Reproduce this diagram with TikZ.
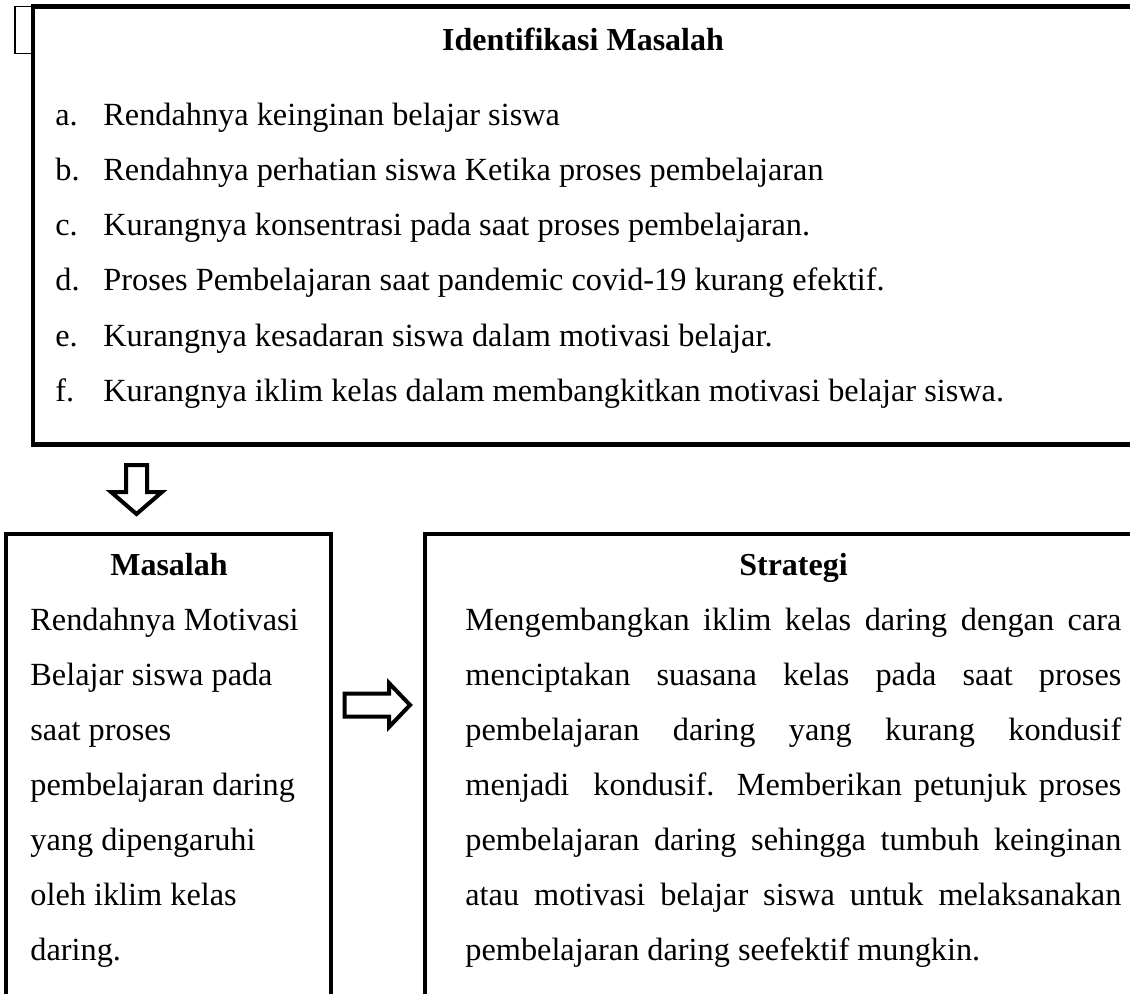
\documentclass[tikz,border=0pt]{standalone}
\usepackage{fontspec}
\setmainfont{Liberation Serif}
\begin{document}
\begin{tikzpicture}[x=0.5pt,y=-0.5pt,
  txt/.style={inner sep=0pt, anchor=base west, font=\fontsize{16.15pt}{19pt}\selectfont},
  ttl/.style={inner sep=0pt, anchor=base, font=\fontsize{16pt}{19pt}\selectfont\bfseries},
  frame/.style={draw, line width=2.2pt, line join=miter},
  thinframe/.style={draw, line width=0.75pt},
  blockarrow/.style={draw, line width=2pt, line join=miter, fill=white}]
\useasboundingbox (0,0) rectangle (1130,993);
\clip (0,0) rectangle (1130,993);
% frames
\draw[thinframe] (15,6.5) rectangle (33,53.5);
\draw[frame] (33,6.5) rectangle (1150,444.5);
\draw[frame] (6,534) rectangle (331,1010);
\draw[frame] (425,534) rectangle (1150,1010);
% block arrows
\draw[blockarrow] (126,465) -- (147,465) -- (147,492) -- (162,492) -- (136.5,514) -- (111,492) -- (126,492) -- cycle;
\draw[blockarrow] (344.5,693.5) -- (389,693.5) -- (389,683) -- (410,705) -- (389,727) -- (389,716.5) -- (344.5,716.5) -- cycle;
% top box text
\node[ttl] (t0) at (583,50) {Identifikasi Masalah};
\node[txt] (la) at (55,125) {a.};
\node[txt] (ta) at (103,125) {Rendahnya keinginan belajar siswa};
\node[txt] (lb) at (55,180) {b.};
\node[txt] (tb) at (103,180) {Rendahnya perhatian siswa Ketika proses pembelajaran};
\node[txt] (lc) at (55,235) {c.};
\node[txt] (tc) at (103,235) {Kurangnya konsentrasi pada saat proses pembelajaran.};
\node[txt] (ld) at (55,290) {d.};
\node[txt] (td) at (103,290) {Proses Pembelajaran saat pandemic covid-19 kurang efektif.};
\node[txt] (le) at (55,346) {e.};
\node[txt] (te) at (103,346) {Kurangnya kesadaran siswa dalam motivasi belajar.};
\node[txt] (lf) at (55,401) {f.};
\node[txt] (tf) at (103,401) {Kurangnya iklim kelas dalam membangkitkan motivasi belajar siswa.};
% left box text
\node[ttl] (m0) at (169,575) {Masalah};
\node[txt] (m1) at (30,630) {Rendahnya Motivasi};
\node[txt] (m2) at (30,685) {Belajar siswa pada};
\node[txt] (m3) at (30,740) {saat proses};
\node[txt] (m4) at (30,795) {pembelajaran daring};
\node[txt] (m5) at (30,850) {yang dipengaruhi};
\node[txt] (m6) at (30,905) {oleh iklim kelas};
\node[txt] (m7) at (30,960) {daring.};
% right box text
\node[ttl] (s0) at (793.5,575) {Strategi};
\node[txt] (s1) at (465,630) {\makebox[328pt][s]{Mengembangkan iklim kelas daring dengan cara}};
\node[txt] (s2) at (465,685) {\makebox[328pt][s]{menciptakan suasana kelas pada saat proses}};
\node[txt] (s3) at (465,740) {\makebox[328pt][s]{pembelajaran daring yang kurang kondusif}};
\node[txt] (s4) at (465,795) {\makebox[328pt][s]{menjadi\ \ kondusif. Memberikan petunjuk proses}};
\node[txt] (s5) at (465,850) {\makebox[328pt][s]{pembelajaran daring sehingga tumbuh keinginan}};
\node[txt] (s6) at (465,905) {\makebox[328pt][s]{atau motivasi belajar siswa untuk melaksanakan}};
\node[txt] (s7) at (465,960) {pembelajaran daring seefektif mungkin.};
\end{tikzpicture}
\end{document}
